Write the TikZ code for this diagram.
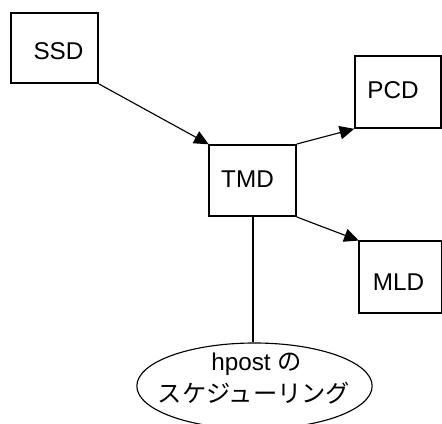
\documentclass[tikz,border=0pt]{standalone}
\usepackage{fontspec}
\setmainfont{Liberation Sans}
\newfontfamily\cjk{Noto Sans CJK JP}
\usetikzlibrary{arrows.meta,shapes.geometric}
\tikzset{
  px/.style={x=0.75pt,y=-0.75pt},
  boxnode/.style={draw=black,line width=1.5pt,rectangle,inner sep=0pt,minimum width=#1},
  lab/.style={font=\fontsize{18.2pt}{22pt}\selectfont,inner sep=0pt,anchor=center,text=black},
  conn/.style={draw=black,line width=0.85pt,-{Triangle[length=11pt,width=10pt]},shorten >=-0.5pt},
  plain/.style={draw=black,line width=1.5pt}
}
\begin{document}
\begin{tikzpicture}[px]
\useasboundingbox (0,0) rectangle (442,424);
\begin{scope}
\clip (0,0) rectangle (442,423.5);
\node[draw=black,line width=0.85pt,ellipse,inner sep=0pt,minimum width=176.5pt,minimum height=64.5pt] (sched) at (254.5,386) {};
\end{scope}
\node[boxnode=65.25pt,minimum height=52.5pt] (ssd) at (54.5,48) {};
\node[boxnode=65pt,minimum height=53.25pt] (tmd) at (252.5,180.5) {};
\node[boxnode=65pt,minimum height=54pt] (pcd) at (398,92) {};
\node[boxnode=62pt,minimum height=53.5pt] (mld) at (400.5,277) {};
\node[lab] (tssd) at (58.5,51) {SSD};
\node[lab] (ttmd) at (247.5,179.5) {TMD};
\node[lab] (tpcd) at (393,90.5) {PCD};
\node[lab] (tmld) at (398.5,282) {MLD};
\node[lab] (t1) at (256.5,364) {hpost {\cjk の}};
\node[lab,font=\fontsize{18.2pt}{22pt}\selectfont] (t2) at (254,393) {\cjk スケジューリング};
\draw[conn] (ssd.south east) -- (tmd.north west);
\draw[conn] (tmd.north east) -- (pcd.south west);
\draw[conn] (tmd.south east) -- (mld.north west);
\coordinate (drop) at (tmd.south);
\draw[plain] (drop) -- (drop |- sched.north);
\end{tikzpicture}
\end{document}
